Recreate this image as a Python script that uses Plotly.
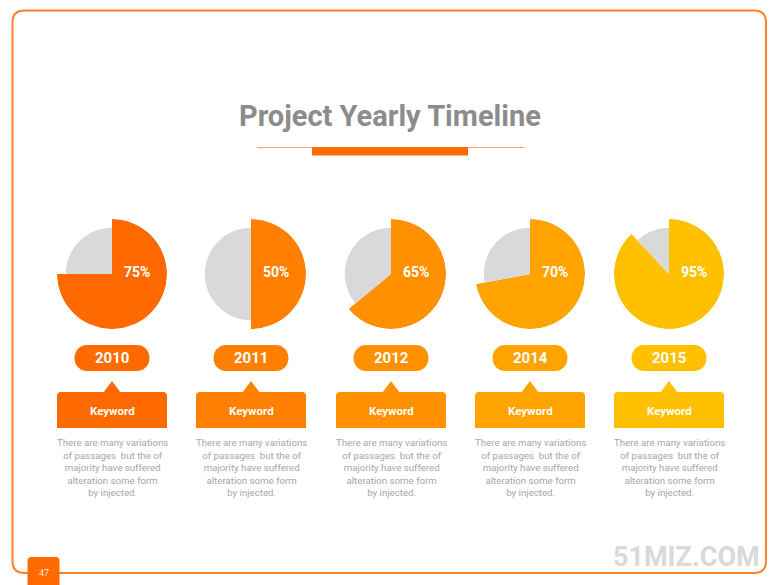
import plotly.graph_objects as go

# ---- data ----
years = ["2010", "2011", "2012", "2014", "2015"]
values = [75, 50, 65, 70, 95]            # printed percentages
shares = [75, 50, 64, 72, 88]            # slice sizes as drawn in the picture
colors = ["#FF6A00", "#FF8000", "#FF9100", "#FFA300", "#FFC000"]
keyword_labels = ["Keyword"] * 5
descriptions = ["There are many variations<br>of passages  but the of<br>majority have suffered<br>alteration some form<br>by injected."] * 5
title_text = "Project Yearly Timeline"
page_number = "47"
watermark = "51MIZ.COM"

W, H = 780, 585
OFF = 8  # page body margin offset: map page pixels directly
centers_x = [112, 251, 391, 530, 669]
center_y = 274
R = 55
GRAY = "#D9D9D9"
TEXT_GRAY = "#A6A6A6"

fig = go.Figure()

fig.add_trace(go.Scatter(x=[OFF, W + OFF], y=[OFF, H + OFF], mode="markers",
                         marker=dict(opacity=0), hoverinfo="skip", showlegend=False))

shapes = []
annotations = []

def rounded_rect(x0, y0, x1, y1, rt, rb):
    return (f"M{x0+rt},{y0} L{x1-rt},{y0} Q{x1},{y0} {x1},{y0+rt} "
            f"L{x1},{y1-rb} Q{x1},{y1} {x1-rb},{y1} L{x0+rb},{y1} Q{x0},{y1} {x0},{y1-rb} "
            f"L{x0},{y0+rt} Q{x0},{y0} {x0+rt},{y0} Z")

def pill(x0, y0, x1, y1):
    r = (y1 - y0) / 2
    return (f"M{x0+r},{y0} L{x1-r},{y0} C{x1+r*0.33},{y0} {x1+r*0.33},{y1} {x1-r},{y1} "
            f"L{x0+r},{y1} C{x0-r*0.33},{y1} {x0-r*0.33},{y0} {x0+r},{y0} Z")

# border
shapes.append(dict(type="path", xref="x", yref="y",
                   path=rounded_rect(12.5, 10.5, 766, 573, 12, 12),
                   line=dict(color="#FF7F27", width=2), fillcolor="rgba(0,0,0,0)"))

# title underline
shapes.append(dict(type="line", xref="x", yref="y", x0=257, x1=524, y0=147.5, y1=147.5,
                   line=dict(color="#FFA066", width=1)))
shapes.append(dict(type="rect", xref="x", yref="y", x0=312, x1=468, y0=147, y1=155.5,
                   fillcolor="#FF6A00", line=dict(width=0)))

annotations.append(dict(x=390, y=116, xref="x", yref="y", text=f"<b>{title_text}</b>",
                        showarrow=False, font=dict(family="Roboto", size=29, color="#8C8C8C"),
                        xanchor="center", yanchor="middle"))

for i, (yr, v, s, c) in enumerate(zip(years, values, shares, colors)):
    cx = centers_x[i]
    pname = "polar" if i == 0 else f"polar{i+1}"
    fig.add_trace(go.Barpolar(
        r=[1, 0.84],
        theta=[s * 3.6 / 2, s * 3.6 + (100 - s) * 3.6 / 2],
        width=[s * 3.6, (100 - s) * 3.6],
        marker=dict(color=[c, GRAY], line=dict(width=0)),
        subplot=pname, showlegend=False, hoverinfo="skip"))
    fig.layout[pname] = dict(
        domain=dict(x=[(cx - R - OFF) / W, (cx + R - OFF) / W],
                    y=[(H + OFF - (center_y + R)) / H, (H + OFF - (center_y - R)) / H]),
        bgcolor="rgba(0,0,0,0)",
        radialaxis=dict(visible=False, range=[0, 1]),
        angularaxis=dict(visible=False, rotation=90, direction="clockwise"),
        bargap=0)
    annotations.append(dict(x=cx + 25, y=center_y - 2, xref="x", yref="y",
                            text=f"<b>{v}%</b>", showarrow=False,
                            font=dict(family="Roboto", size=14, color="white")))
    # year pill
    shapes.append(dict(type="path", xref="x", yref="y",
                       path=pill(cx - 37.5, 345, cx + 37.5, 371),
                       fillcolor=c, line=dict(width=0)))
    annotations.append(dict(x=cx, y=358, xref="x", yref="y", text=f"<b>{yr}</b>",
                            showarrow=False, font=dict(family="Roboto", size=15, color="white")))
    # triangle pointer
    shapes.append(dict(type="path", xref="x", yref="y",
                       path=f"M{cx-9},393 L{cx},381 L{cx+9},393 Z",
                       fillcolor=c, line=dict(width=0)))
    # keyword box
    shapes.append(dict(type="path", xref="x", yref="y",
                       path=rounded_rect(cx - 55, 392, cx + 55, 428, 4, 0.01),
                       fillcolor=c, line=dict(width=0)))
    annotations.append(dict(x=cx, y=411, xref="x", yref="y", text=f"<b>{keyword_labels[i]}</b>",
                            showarrow=False, font=dict(family="Roboto", size=11.5, color="white")))
    # description
    annotations.append(dict(x=cx, y=467.5, xref="x", yref="y", text=descriptions[i],
                            showarrow=False, align="center", xanchor="center", yanchor="middle",
                            font=dict(family="Roboto", size=9.7, color=TEXT_GRAY)))

# page number box
shapes.append(dict(type="path", xref="x", yref="y",
                   path=rounded_rect(27.5, 557, 59.5, 592, 4, 0.01),
                   fillcolor="#FF6A00", line=dict(width=0)))
annotations.append(dict(x=43.5, y=572, xref="x", yref="y", text=page_number, showarrow=False,
                        font=dict(family="Liberation Serif", size=10, color="white")))
# watermark
annotations.append(dict(x=762, y=557, xref="x", yref="y", text=f"<b>{watermark}</b>",
                        showarrow=False, xanchor="right", yanchor="middle",
                        font=dict(family="Roboto", size=27, color="#D9D9D9")))

fig.update_layout(
    width=W, height=H, margin=dict(l=0, r=0, t=0, b=0),
    paper_bgcolor="white", plot_bgcolor="rgba(0,0,0,0)",
    xaxis=dict(range=[OFF, W + OFF], visible=False, fixedrange=True, domain=[0, 1]),
    yaxis=dict(range=[H + OFF, OFF], visible=False, fixedrange=True, domain=[0, 1]),
    shapes=shapes, annotations=annotations, showlegend=False)

fig.write_html("out.html")
